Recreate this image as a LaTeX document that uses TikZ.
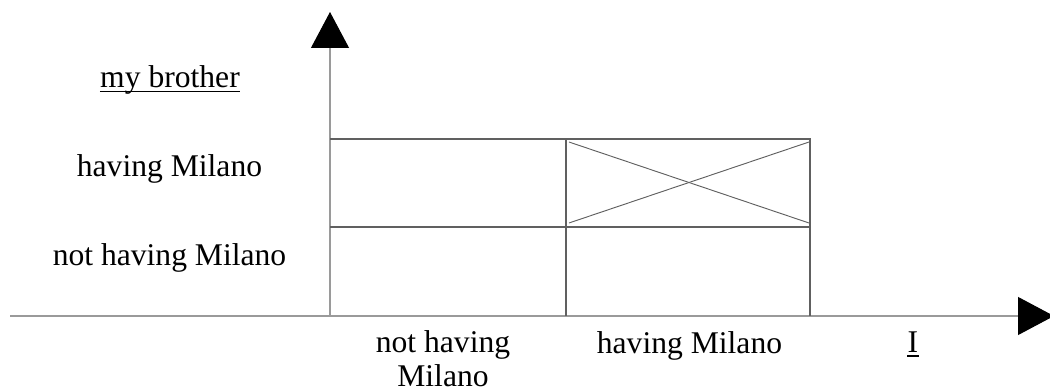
\documentclass[tikz,border=0pt]{standalone}
\usepackage{fontspec}
\setmainfont{Liberation Serif}
\usetikzlibrary{arrows.meta}
\definecolor{axisgray}{HTML}{9A9A9A}
\definecolor{boxgray}{HTML}{606060}
\begin{document}
\begin{tikzpicture}[x=0.75pt,y=-0.75pt,
  axis/.style={draw=axisgray,line width=0.8pt,
    -{Triangle[length=27pt,width=28.5pt,color=black,fill=black]}},
  boxline/.style={draw=boxgray,line width=0.8pt},
  crossline/.style={draw=boxgray,line width=0.7pt},
  lbl/.style={inner sep=0pt,anchor=base,font=\fontsize{23.7}{25.5}\selectfont},
  ul/.style={draw=black,line width=0.9pt}]
\useasboundingbox (0,0) rectangle (1050,392);
% axes
\coordinate (O) at (330,316);
\coordinate (xstart) at (10,316);
\coordinate (xend) at (1054,316);
\coordinate (yend) at (330,12);
\draw[axis] (xstart) -- (xend);
\draw[axis] (O) -- (yend);
% grid
\coordinate (tl) at (330,139);
\coordinate (tm) at (566,139);
\coordinate (tr) at (810,139);
\coordinate (ml) at (330,227);
\coordinate (mr) at (810,227);
\coordinate (bm) at (566,316);
\coordinate (br) at (810,316);
\draw[boxline] (tl) -- (tr) -- (br);
\draw[boxline] (ml) -- (mr);
\draw[boxline] (tm) -- (bm);
% cross
\coordinate (c1) at (569,142);
\coordinate (c2) at (809,223);
\coordinate (c3) at (569,223);
\coordinate (c4) at (809,142);
\draw[crossline] (c1) -- (c2);
\draw[crossline] (c3) -- (c4);
% y labels
\node[lbl] (mb) at (170,88) {my brother};
\draw[ul] ([yshift=-2.4pt]mb.base west) -- ([yshift=-2.4pt]mb.base east);
\node[lbl] (yh) at (169.5,177) {having Milano};
\node[lbl] (ynh) at (169.5,265) {not having Milano};
% x labels
\node[lbl,align=center] (xnh) at (443,386) {not having\\Milano};
\node[lbl] (xh) at (689.5,353) {having Milano};
\node[lbl] (xi) at (913,352) {I};
\draw[ul] ([yshift=-3pt]xi.base west) -- ([yshift=-3pt]xi.base east);
\end{tikzpicture}
\end{document}
